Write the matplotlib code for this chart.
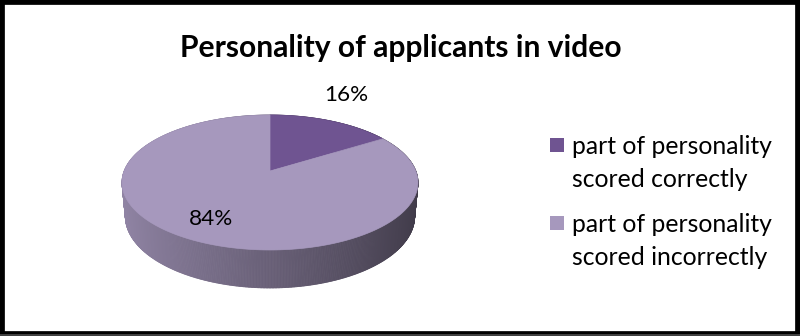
import numpy as np
import matplotlib
matplotlib.use('Agg')
import matplotlib.pyplot as plt
from matplotlib.patches import Polygon, Rectangle
from matplotlib.collections import PolyCollection

# ---- data ----
title = "Personality of applicants in video"
labels = ["part of personality\nscored correctly",
          "part of personality\nscored incorrectly"]
values = [16, 84]
colors = ['#6f5491', '#a698bd']

plt.rcParams['font.family'] = ['Lato', 'DejaVu Sans']

fig = plt.figure(figsize=(8, 3.36), dpi=100)
ax = fig.add_axes([0, 0, 1, 1])
ax.set_xlim(0, 800)
ax.set_ylim(336, 0)
ax.axis('off')

# ---- perspective projection of a 3D disk ----
alpha = np.radians(26.7)
D, K, H = 5.246, 765.0, 0.262
CX, CY = 270.0, 171.0
ca, sa = np.cos(alpha), np.sin(alpha)


def proj(phi, Y, r=1.0):
    X = r * np.sin(phi)
    Z = r * np.cos(phi)
    w = D + Z * ca - Y * sa
    v = Y * ca + Z * sa
    return CX + K * X / w, CY - K * v / w


fracs = np.array(values, dtype=float) / np.sum(values)
bounds = np.concatenate([[0], np.cumsum(fracs)]) * 2 * np.pi

# side walls (drawn far to near)
polys, fcs, depth = [], [], []
for i, (a0, a1) in enumerate(zip(bounds[:-1], bounds[1:])):
    n = max(int((a1 - a0) / (2 * np.pi) * 720), 2)
    ph = np.linspace(a0, a1, n + 1)
    base = np.array(matplotlib.colors.to_rgb(colors[i]))
    for p0, p1 in zip(ph[:-1], ph[1:]):
        x0t, y0t = proj(p0, 0.0)
        x1t, y1t = proj(p1, 0.0)
        x0b, y0b = proj(p0, -H)
        x1b, y1b = proj(p1, -H)
        pm = 0.5 * (p0 + p1)
        t = (1 - np.sin(pm)) / 2.0          # 0 right, 1 left
        f = 0.38 + 0.50 * t
        polys.append([(x0t, y0t), (x1t, y1t), (x1b, y1b), (x0b, y0b)])
        fcs.append(np.clip(base * f, 0, 1))
        depth.append(np.cos(pm))
order = np.argsort(depth)[::-1]
pc = PolyCollection([polys[j] for j in order],
                    facecolors=[fcs[j] for j in order],
                    edgecolors=[fcs[j] for j in order], linewidths=0.6)
ax.add_collection(pc)

# top faces
for i, (a0, a1) in enumerate(zip(bounds[:-1], bounds[1:])):
    ph = np.linspace(a0, a1, 400)
    xs, ys = proj(ph, 0.0)
    pts = [(CX, CY)] + list(zip(xs, ys))
    ax.add_patch(Polygon(pts, closed=True, facecolor=colors[i],
                         edgecolor=colors[i], linewidth=0.5))

# ---- texts ----
t_title = ax.text(401, 48, title, ha='center', va='center',
                  fontsize=20, fontweight='bold', color='black')
t16 = ax.text(346, 95, f"{values[0]}%", ha='center', va='center',
              fontsize=15, color='black')
t84 = ax.text(211, 219, f"{values[1]}%", ha='center', va='center',
              fontsize=15, color='black')

leg_y = [162, 240]
leg_txt = []
for i in range(2):
    ax.add_patch(Rectangle((550, leg_y[i] - 24), 14, 14,
                           facecolor=colors[i], edgecolor='none'))
    leg_txt.append(ax.text(572, leg_y[i] + 1, labels[i], ha='left', va='center',
                           fontsize=15, color='black', linespacing=1.5))

fig.canvas.draw()
r = fig.canvas.get_renderer()


def fit(txt, w):
    bb = txt.get_window_extent(r)
    txt.set_fontsize(txt.get_fontsize() * w / bb.width)


fit(t_title, 442)
fit(t84, 44)
t16.set_fontsize(t84.get_fontsize())
fit(leg_txt[0], 200)
leg_txt[1].set_fontsize(leg_txt[0].get_fontsize())

# ---- outer frame ----
fig.patches.append(Rectangle((0, 0), 1, 1, transform=fig.transFigure,
                             fill=False, edgecolor='black', linewidth=7))
fig.patches.append(Rectangle((0, 0), 1, 2 / 336, transform=fig.transFigure,
                             facecolor='#404040', edgecolor='none'))

fig.savefig('out.png', dpi=100)
